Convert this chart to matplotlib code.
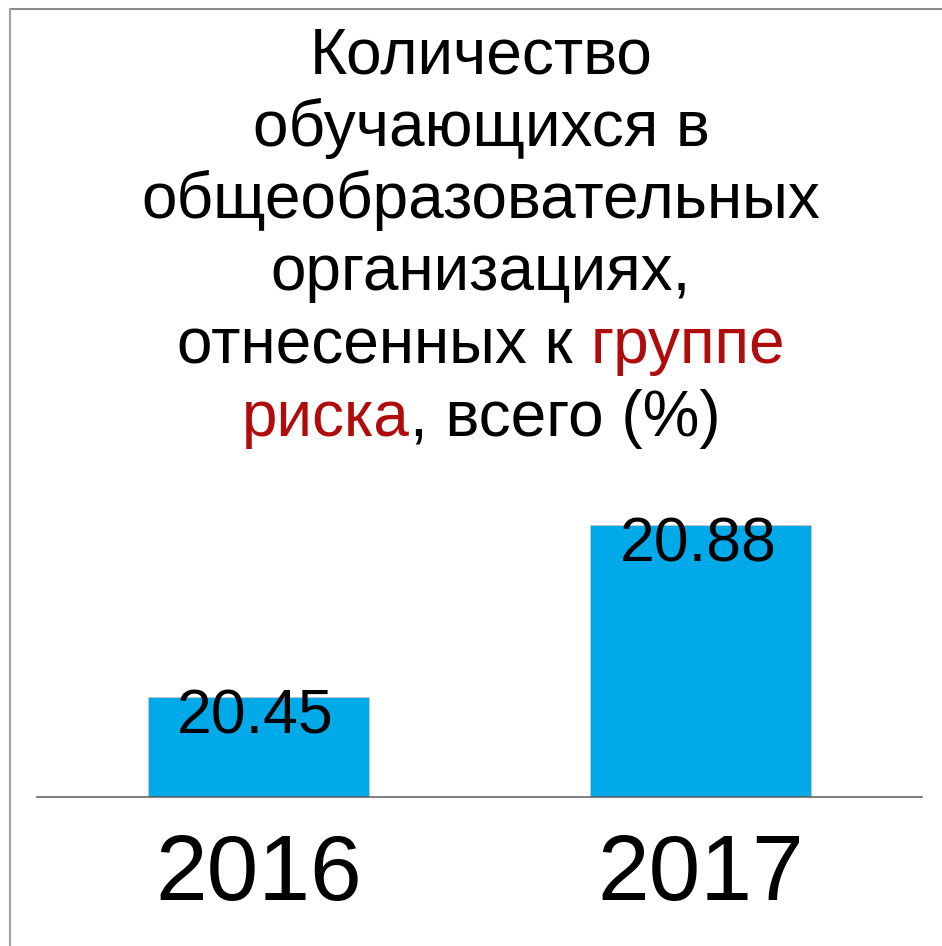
import matplotlib
matplotlib.use('Agg')
import matplotlib.pyplot as plt
from matplotlib.lines import Line2D

plt.rcParams['font.family'] = ['Liberation Sans', 'DejaVu Sans']

# data
years = ['2016', '2017']
values = [20.45, 20.88]
title_lines = [
    [('Количество', 'black')],
    [('обучающихся в', 'black')],
    [('общеобразовательных', 'black')],
    [('организациях,', 'black')],
    [('отнесенных к ', 'black'), ('группе', '#B00C0C')],
    [('риска', '#B00C0C'), (', всего (%)', 'black')],
]

W, H = 942, 946
fig = plt.figure(figsize=(W / 100, H / 100), dpi=100)
fig.patch.set_facecolor('white')

# axes placed in pixel terms
left, right, bottom, top = 37, 922, 797, 497
ax = fig.add_axes([left / W, 1 - bottom / H, (right - left) / W, (bottom - top) / H])
x = list(range(len(years)))
ax.bar(x, values, width=0.5, color='#00AAE8', edgecolor='#c8c8c8', linewidth=0.6)
ax.set_xlim(-0.5, 1.5)
ax.set_ylim(20.2, 20.95)
ax.set_yticks([])
for s in ['top', 'right', 'left']:
    ax.spines[s].set_visible(False)
ax.spines['bottom'].set_color('#5a5a5a')
ax.spines['bottom'].set_linewidth(1.1)
ax.set_xticks(x, years)
ax.tick_params(axis='x', length=0, pad=74, labelsize=67)
plt.setp(ax.get_xticklabels(), va='baseline')
ax.patch.set_visible(False)

for xi, v in zip(x, values):
    ax.annotate(f'{v:.2f}', xy=(xi, v), xytext=(-2, -26), textcoords='offset points',
                ha='center', va='baseline', fontsize=45, color='black')

# title, drawn line by line so parts can be coloured
fs = 46
cx = 481
baselines = [74, 146, 218, 290, 363, 436]
fig.canvas.draw()
renderer = fig.canvas.get_renderer()
for parts, yb in zip(title_lines, baselines):
    yf = 1 - yb / H
    full = ''.join(p[0] for p in parts)
    if len(parts) == 1:
        fig.text(cx / W, yf, full, ha='center', va='baseline', fontsize=fs, color=parts[0][1])
        continue
    tmp = fig.text(0, 0, full, fontsize=fs)
    wpx = tmp.get_window_extent(renderer).width
    tmp.remove()
    fig.text((cx - wpx / 2) / W, yf, parts[0][0].rstrip(), ha='left', va='baseline',
             fontsize=fs, color=parts[0][1])
    fig.text((cx + wpx / 2) / W, yf, parts[1][0].lstrip(), ha='right', va='baseline',
             fontsize=fs, color=parts[1][1])

# frame lines at top and left
fig.add_artist(Line2D([10 / W, 1], [1 - 9.5 / H, 1 - 9.5 / H], color='#8c8c8c', lw=1.5))
fig.add_artist(Line2D([10 / W, 10 / W], [0, 1 - 9.5 / H], color='#a0a0a0', lw=1.5))

fig.savefig('out.png', dpi=100, facecolor='white')
